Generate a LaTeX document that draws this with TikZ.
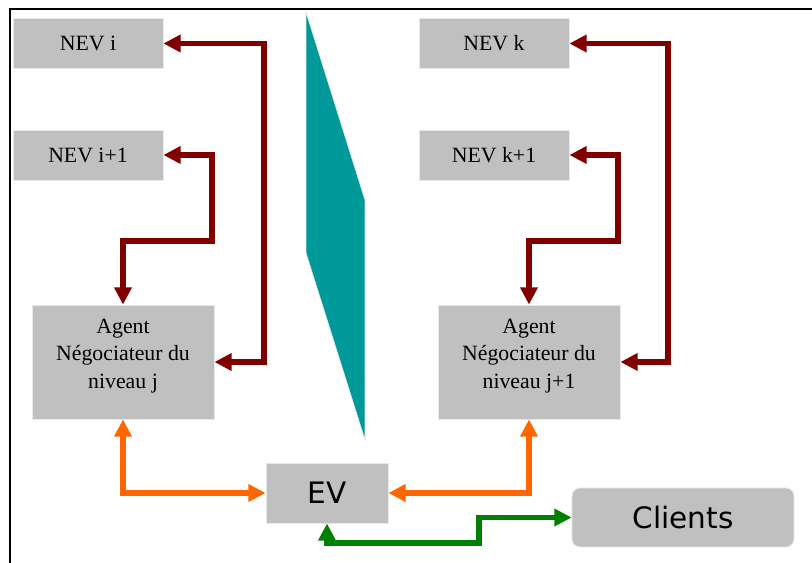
\documentclass[tikz,border=0pt]{standalone}
\usepackage{fontspec}
\setmainfont{Liberation Serif}
\newfontfamily\evfont{DejaVu Sans}
\usetikzlibrary{arrows.meta}
\definecolor{boxgray}{HTML}{C0C0C0}
\definecolor{boxedge}{HTML}{E8E8E8}
\definecolor{nevred}{HTML}{800000}
\definecolor{evorange}{HTML}{FF6600}
\definecolor{clgreen}{HTML}{008000}
\definecolor{wedgeteal}{HTML}{009999}
\begin{document}
\begin{tikzpicture}[x=0.025cm,y=-0.025cm,
  nev/.style={fill=boxgray,draw=boxedge,line width=0.6pt,minimum width=3.75cm,minimum height=1.25cm,inner sep=0pt,font=\fontsize{15.5}{19}\selectfont},
  agent/.style={fill=boxgray,draw=boxedge,line width=0.6pt,minimum width=4.55cm,minimum height=2.85cm,inner sep=0pt},
  agenttext/.style={align=center,font=\fontsize{15.5}{19.4}\selectfont,yshift=0.15cm},
  ev/.style={fill=boxgray,draw=boxedge,line width=0.6pt,minimum width=3.05cm,minimum height=1.5cm,inner sep=0pt,font=\evfont\fontsize{21}{25}\selectfont},
  link/.style={line width=4.1pt,{Triangle[length=0.43cm,width=0.42cm]}-{Triangle[length=0.43cm,width=0.42cm]}}]
\useasboundingbox (0,0) rectangle (812,563);
\draw[line width=1.2pt] (10,563) -- (10,9) -- (812,9);

\fill[wedgeteal,draw=boxedge,line width=0.5pt] (306,12) -- (365,200) -- (365,440) -- (306,253) -- cycle;

\node[nev] (nevi) at (88,43.5) {NEV i};
\node[nev] (nevi1) at (88,155) {NEV i+1};
\node[nev] (nevk) at (494,43.5) {NEV k};
\node[nev] (nevk1) at (494,155) {NEV k+1};

\node[agent,label={[agenttext]center:{Agent\\Négociateur du\\niveau j}}] (aj) at (123,362) {};
\node[agent,label={[agenttext]center:{Agent\\Négociateur du\\niveau j+1}}] (ajj) at (529,362) {};

\node[ev] (ev) at (327,493) {EV};
\node[ev,minimum width=5.55cm,minimum height=1.475cm,rounded corners=0.2cm] (clients) at (683,517.5) {Clients};

\coordinate (bendi) at (264,0);
\coordinate (bendi1) at (212,241);
\coordinate (bendk) at (668,0);
\coordinate (bendk1) at (618,241);
\coordinate (bendcl) at (479,543);

\draw[link,nevred] (nevi.east) -| (bendi |- aj.east) -- (aj.east);
\draw[link,nevred] (nevi1.east) -| (bendi1) -| (aj.north);
\draw[link,nevred] (nevk.east) -| (bendk |- ajj.east) -- (ajj.east);
\draw[link,nevred] (nevk1.east) -| (bendk1) -| (ajj.north);

\draw[link,evorange] (aj.south) |- (ev.west);
\draw[link,evorange] (ev.east) -| (ajj.south);

\draw[link,clgreen] (ev.south) |- (bendcl) |- (clients.west);
\end{tikzpicture}
\end{document}
